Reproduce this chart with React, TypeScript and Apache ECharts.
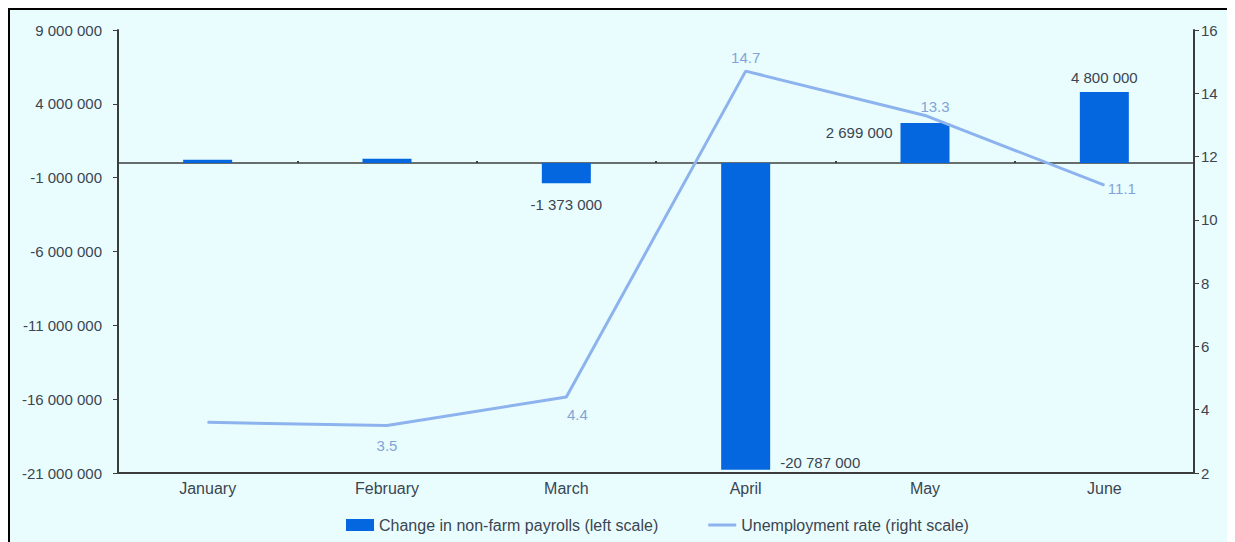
import React, { useEffect, useRef } from "react";
import * as echarts from "echarts";

const months = ["January", "February", "March", "April", "May", "June"];
const payrolls = [214000, 275000, -1373000, -20787000, 2699000, 4800000];
const unemployment = [3.6, 3.5, 4.4, 14.7, 13.3, 11.1];
const leftTicks = [-21000000, -16000000, -11000000, -6000000, -1000000, 4000000, 9000000];
const seriesNames = ["Change in non-farm payrolls (left scale)", "Unemployment rate (right scale)"];

const FONT = "'Liberation Sans', Arial, sans-serif";
const TEXT = "#3a4552";
const AXIS = "#3c3c3c";
const BAR = "#0567e0";
const LINE = "#8db3ee";
const LINE_LABEL = "#82a3d8";

const fmt = (v: number) => {
  const s = Math.abs(Math.round(v)).toString().replace(/\B(?=(\d{3})+(?!\d))/g, " ");
  return (v < 0 ? "-" : "") + s;
};

export default function App() {
  const ref = useRef<HTMLDivElement>(null);
  useEffect(() => {
    if (!ref.current) return;
    const chart = echarts.init(ref.current, undefined, { renderer: "svg" });

    const barLabels: any[] = [
      { show: false },
      { show: false },
      { show: true, position: "bottom", distance: 14 },
      { show: true, position: ["100%", "100%"], align: "left", verticalAlign: "bottom", offset: [10, 0] },
      { show: true, position: ["0%", "0%"], align: "right", verticalAlign: "top", offset: [-8, 2] },
      { show: true, position: "top", distance: 7 },
    ];
    const lineLabels: any[] = [
      { show: false },
      { show: true, position: "bottom", distance: 12 },
      { show: true, position: "bottom", distance: 9, offset: [11, 0] },
      { show: true, position: "top", distance: 6 },
      { show: true, position: "top", distance: 1, offset: [10, 0] },
      { show: true, position: "right", distance: 3, offset: [0, 3] },
    ];

    chart.setOption({
      animation: false,
      backgroundColor: "transparent",
      textStyle: { fontFamily: FONT },
      grid: { left: 108, right: 41, top: 20, bottom: 69, containLabel: false },
      legend: {
        data: [
          { name: seriesNames[0], icon: "rect" },
          { name: seriesNames[1], icon: "path://M0,0L28,0L28,3L0,3Z" },
        ],
        left: 331,
        top: 502,
        itemWidth: 28,
        itemHeight: 12,
        itemGap: 50,
        textStyle: { color: TEXT, fontSize: 16, fontFamily: FONT },
      },
      xAxis: [
        {
          type: "category",
          data: months,
          position: "bottom",
          axisLine: { onZero: false, lineStyle: { color: AXIS, width: 2 } },
          axisTick: { show: false },
          axisLabel: { color: TEXT, fontSize: 16, fontFamily: FONT, margin: 7 },
        },
        {
          type: "category",
          data: months,
          position: "top",
          axisLine: { onZero: true, onZeroAxisIndex: 0, lineStyle: { color: AXIS, width: 1.5 } },
          axisTick: { show: true, length: 2, lineStyle: { color: AXIS, width: 2 } },
          axisLabel: { show: false },
          splitLine: { show: false },
        },
      ],
      yAxis: [
        {
          type: "value",
          min: -21000000,
          max: 9000000,
          position: "left",
          splitLine: { show: false },
          axisLine: { show: true, lineStyle: { color: AXIS, width: 2 } },
          axisTick: { show: true, length: 5, customValues: leftTicks, lineStyle: { color: AXIS } },
          axisLabel: {
            customValues: leftTicks,
            color: TEXT,
            fontSize: 15,
            fontFamily: FONT,
            margin: 16,
            formatter: (v: number) => fmt(v),
          },
        },
        {
          type: "value",
          min: 2,
          max: 16,
          interval: 2,
          position: "right",
          splitLine: { show: false },
          axisLine: { show: true, lineStyle: { color: AXIS, width: 2 } },
          axisTick: { show: true, length: 5, lineStyle: { color: AXIS } },
          axisLabel: { color: TEXT, fontSize: 15, fontFamily: FONT, margin: 7 },
        },
      ],
      series: [
        {
          name: seriesNames[0],
          type: "bar",
          xAxisIndex: 0,
          yAxisIndex: 0,
          barWidth: 49,
          itemStyle: { color: BAR },
          label: { color: TEXT, fontSize: 15, fontFamily: FONT, formatter: (p: any) => fmt(p.value) },
          data: payrolls.map((v, i) => ({ value: v, label: barLabels[i] })),
          z: 2,
        },
        {
          name: seriesNames[1],
          type: "line",
          xAxisIndex: 0,
          yAxisIndex: 1,
          symbol: "circle",
          symbolSize: 1,
          showSymbol: true,
          lineStyle: { color: LINE, width: 3 },
          itemStyle: { color: LINE },
          label: { color: LINE_LABEL, fontSize: 15, fontFamily: FONT },
          data: unemployment.map((v, i) => ({ value: v, label: lineLabels[i] })),
          z: 3,
        },
      ],
    });
    return () => chart.dispose();
  }, []);

  return (
    <div
      style={{
        width: 1225,
        height: 532,
        borderTop: "2px solid #000",
        borderLeft: "2px solid #000",
        background: "#eafdfe",
        overflow: "hidden",
      }}
    >
      <div ref={ref} style={{ width: 1225, height: 532 }} />
    </div>
  );
}
